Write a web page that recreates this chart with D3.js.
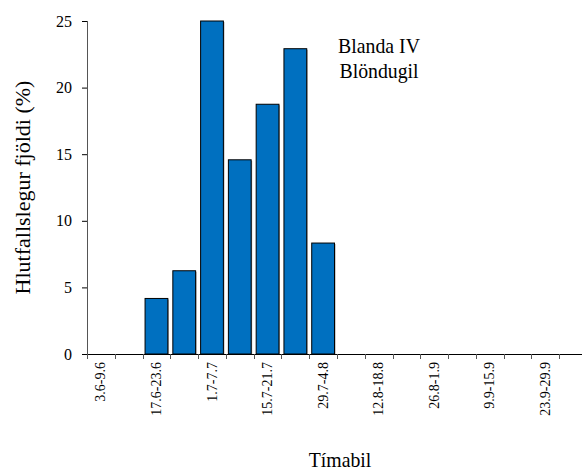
<!DOCTYPE html>
<html>
<head>
<meta charset="utf-8">
<script src="https://cdn.jsdelivr.net/npm/d3@7"></script>
<style>
  body { margin: 0; background: #fff; }
</style>
</head>
<body>
<svg id="chart" width="582" height="473" style="font-family:'Liberation Serif'"></svg>
<script>
// weekly periods (every other one is labelled on the axis)
const periods = ['3.6-9.6','10.6-16.6','17.6-23.6','24.6-30.6','1.7-7.7','8.7-14.7',
    '15.7-21.7','22.7-28.7','29.7-4.8','5.8-11.8','12.8-18.8','19.8-25.8',
    '26.8-1.9','2.9-8.9','9.9-15.9','16.9-22.9','23.9-29.9','30.9-6.10'];
const values = [0,0,4.17,6.25,25,14.58,18.75,22.92,8.33,0,0,0,0,0,0,0,0,0];
const yTicks = [0,5,10,15,20,25];
const titleLines = ['Blanda IV','Blöndugil'];

const FONT = "'Liberation Serif'";
const svg = d3.select('#chart');
const plotL = 87, plotR = 587, plotT = 21, plotB = 354;
// the original picture is a little taller than wide, so horizontal text is squeezed a bit
const squeeze = 0.9;

const x = d3.scaleBand().domain(periods).range([plotL, plotR]).paddingInner(0).paddingOuter(0);
const y = d3.scaleLinear().domain([0, 25]).range([plotB, plotT]);
const bw = x.bandwidth();
const barPad = 2.5;

// bars (slight grey shadow on the right like the original)
const bars = svg.append('g');
const data = periods.map((p,i)=>({p, v: values[i]})).filter(d=>d.v>0);
bars.selectAll('rect.shadow').data(data).join('rect')
    .attr('class','shadow')
    .attr('x', d=>x(d.p)+barPad+1)
    .attr('y', d=>y(d.v)+1)
    .attr('width', bw-2*barPad)
    .attr('height', d=>plotB-y(d.v)-1)
    .attr('fill','#999');
bars.selectAll('rect.bar').data(data).join('rect')
    .attr('class','bar')
    .attr('x', d=>x(d.p)+barPad)
    .attr('y', d=>y(d.v))
    .attr('width', bw-2*barPad)
    .attr('height', d=>plotB-y(d.v))
    .attr('fill','#0070C0')
    .attr('stroke','#000')
    .attr('stroke-width',1);

// y axis
const gy = svg.append('g').attr('transform',`translate(${plotL},0)`)
    .call(d3.axisLeft(y).tickValues(yTicks).tickSize(5).tickPadding(10));
gy.attr('font-family',null);
gy.select('.domain').attr('stroke','#555').attr('d',`M0.5,${plotT}V${plotB}`);
gy.selectAll('.tick line').attr('stroke','#000');
gy.selectAll('.tick text').style('font-family',FONT).style('font-size','16px').attr('fill','#000');

// x axis: ticks at band boundaries
const bounds = periods.map(p=>x(p)).concat([plotR]);
const gx = svg.append('g');
gx.append('line').attr('x1',plotL).attr('x2',582).attr('y1',plotB+0.5).attr('y2',plotB+0.5)
    .attr('stroke','#000').attr('stroke-width',1.2);
gx.selectAll('line.tk').data(bounds).join('line')
    .attr('class','tk')
    .attr('x1',d=>Math.round(d)+0.5).attr('x2',d=>Math.round(d)+0.5)
    .attr('y1',plotB).attr('y2',plotB+5)
    .attr('stroke','#555');
gx.selectAll('text').data(periods.filter((p,i)=>i%2===0)).join('text')
    .attr('transform',d=>`translate(${x(d)+bw/2+4.5},${plotB+8}) rotate(-90)`)
    .attr('text-anchor','end')
    .style('font-family',FONT)
    .style('font-size','14px')
    .text(d=>d);

// axis titles
svg.append('text')
    .attr('transform',`translate(30,${(plotT+plotB)/2}) rotate(-90)`)
    .attr('text-anchor','middle')
    .style('font-family',FONT)
    .style('font-size','22px')
    .text('Hlutfallslegur fjöldi (%)');
svg.append('text')
    .attr('transform',`translate(340,467) scale(${squeeze},1)`)
    .attr('text-anchor','middle')
    .style('font-family',FONT)
    .style('font-size','22px')
    .text('Tímabil');

// in-chart title
svg.append('g').selectAll('text').data(titleLines).join('text')
    .attr('transform',(d,i)=>`translate(379,${53+i*25}) scale(${squeeze},1)`)
    .attr('text-anchor','middle')
    .style('font-family',FONT)
    .style('font-size','22px')
    .text(d=>d);
</script>
</body>
</html>
